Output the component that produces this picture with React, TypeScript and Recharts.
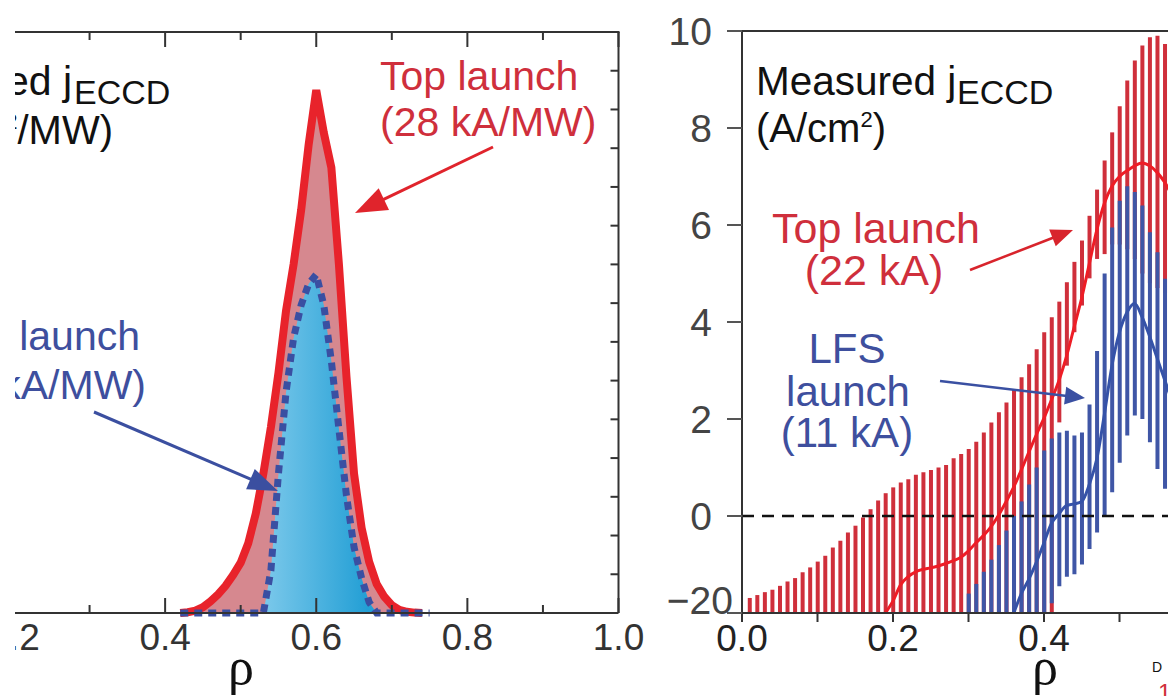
import React from "react";
import {
  ComposedChart,
  Area,
  Bar,
  Line,
  XAxis,
  YAxis,
  ReferenceLine,
} from "recharts";

const FONT = '"Liberation Sans", Arial, Helvetica, sans-serif';

// Left panel: calculated j_ECCD profiles (arbitrary units, 0..15 axis)
const rhoCalc = [
  0.42, 0.43, 0.44, 0.45, 0.46, 0.47, 0.48, 0.49, 0.5, 0.51, 0.52, 0.53,
  0.54, 0.55, 0.56, 0.57, 0.58, 0.59, 0.6, 0.61, 0.62, 0.63, 0.64, 0.65,
  0.66, 0.67, 0.68, 0.69, 0.7, 0.71, 0.72, 0.73, 0.74, 0.75,
];
const topCalc = [
  0, 0.02, 0.06, 0.15, 0.3, 0.48, 0.7, 0.98, 1.3, 1.8, 2.57, 3.6,
  4.8, 6.2, 7.8, 9.0, 10.4, 12.1, 13.5, 12.4, 11.5, 9.0, 6.1, 3.6,
  2.2, 1.32, 0.75, 0.42, 0.2, 0.08, 0.03, 0.01, 0, null,
];
const lfsCalc = [
  0, 0, 0, 0, 0, 0, 0, 0, 0, 0, 0, 0,
  1.1, 3.6, 5.7, 7.1, 7.95, 8.5, 8.74, 7.95, 6.5, 4.75, 3.03, 1.7,
  0.9, 0.28, 0, 0, 0, 0, 0, 0, 0, 0,
];
const leftTicks = [0.2, 0.3, 0.4, 0.5, 0.6, 0.7, 0.8, 0.9, 1.0];
const leftYTicks = [0, 1, 2, 3, 4, 5, 6, 7, 8, 9, 10, 11, 12, 13, 14, 15];

// Right panel: measured j_ECCD (A/cm2) with error bars
const rhoMeas = [
  0.01, 0.02, 0.03, 0.04, 0.05, 0.06, 0.07, 0.08, 0.09, 0.1,
  0.11, 0.12, 0.13, 0.14, 0.15, 0.16, 0.17, 0.18, 0.19, 0.2,
  0.21, 0.22, 0.23, 0.24, 0.25, 0.26, 0.27, 0.28, 0.29, 0.3,
  0.31, 0.32, 0.33, 0.34, 0.35, 0.36, 0.37, 0.38, 0.39, 0.4,
  0.41, 0.42, 0.43, 0.44, 0.45, 0.46, 0.47, 0.48, 0.49, 0.5,
  0.51, 0.52, 0.53, 0.54, 0.55, 0.56, 0.57,
];
const topHigh = [
  -1.69, -1.63, -1.57, -1.52, -1.44, -1.35, -1.28, -1.16, -1.06, -0.94,
  -0.82, -0.65, -0.51, -0.34, -0.2, -0.03, 0.14, 0.32, 0.47, 0.59,
  0.69, 0.76, 0.85, 0.9, 0.95, 1.0, 1.05, 1.19, 1.28, 1.38,
  1.53, 1.72, 1.93, 2.14, 2.34, 2.6, 2.86, 3.13, 3.44, 3.79,
  4.1, 4.42, 4.82, 5.24, 5.68, 6.19, 6.73, 7.33, 7.91, 8.45,
  8.98, 9.39, 9.7, 9.87, 9.9, 9.73, 9.5,
];
const topLow = [
  -2, -2, -2, -2, -2, -2, -2, -2, -2, -2,
  -2, -2, -2, -2, -2, -2, -2, -2, -2, -2,
  -2, -2, -2, -2, -2, -2, -2, -2, -2, -2,
  -2, -2, -2, -2, -2, -2, -2, -2, -2, -2,
  -2, 1.93, 3.1, 3.79, 4.34, 4.9, 5.3, 5.4, 5.6, 5.6,
  5.5, 5.3, 5.0, 4.8, 4.7, 4.6, 4.5,
];
// red mean curve from rho = 0.19
const topMean = [
  -2.0, -1.75, -1.42, -1.25, -1.15, -1.1, -1.07, -1.03, -0.98, -0.92,
  -0.85, -0.72, -0.55, -0.4, -0.22, 0.02, 0.3, 0.6, 0.95, 1.32,
  1.68, 2.02, 2.4, 2.8, 3.3, 3.9, 4.5, 5.2, 5.9, 6.45,
  6.8, 7.0, 7.12, 7.22, 7.28, 7.22, 7.08, 6.88, 6.6,
];
// LFS error bars from rho = 0.30
const lfsHigh = [
  -1.6, -1.4, -1.15, -0.9, -0.6, -0.3, 0.0, 0.3, 0.65, 1.0,
  1.35, 1.6, 1.72, 1.76, 1.66, 1.72, 2.3, 3.4, 5.0, 5.95,
  6.5, 6.8, 6.68, 6.4, 5.85, 5.44, 4.89, 4.4,
];
const lfsLow = [
  -2, -2, -2, -2, -2, -2, -2, -2, -2, -2,
  -2, -1.8, -1.45, -1.25, -1.2, -1.0, -0.68, -0.34, 0.0, 0.49,
  1.1, 1.66, 2.07, 2.0, 1.52, 0.97, 0.56, 0.2,
];
// LFS mean curve from rho = 0.36
const lfsMean = [
  -2.0, -1.6, -1.3, -0.95, -0.55, -0.15, 0.05, 0.22, 0.25, 0.3,
  0.65, 1.18, 2.1, 3.1, 3.79, 4.2, 4.38, 4.1, 3.7, 3.25,
  2.8, 2.35,
];
const rightXTicks = [0, 0.1, 0.2, 0.3, 0.4, 0.5, 0.6, 0.7, 0.8];
const rightYTicks = [-2, 0, 2, 4, 6, 8, 10];

const calcData = rhoCalc.map((rho, i) => ({ rho, top: topCalc[i], lfs: lfsCalc[i] }));

const measData = rhoMeas.map((rho, i) => {
  const n = rhoMeas.length;
  const b = i - (n - lfsHigh.length);
  const tm = i - (n - topMean.length);
  const lm = i - (n - lfsMean.length);
  return {
    rho,
    topBar: [topLow[i], topHigh[i]],
    lfsBar: b >= 0 ? [lfsLow[b], lfsHigh[b]] : null,
    top: tm >= 0 ? topMean[tm] : null,
    lfs: lm >= 0 ? lfsMean[lm] : null,
  };
});

// left plot box (chart 700x696)
const L_MARGIN = { top: 32, right: 61.5, bottom: 23, left: 14 };
const L_XAXIS_H = 60;
const L_YAXIS_W = 20;
const L_PLOT_W = 700 - L_MARGIN.left - L_MARGIN.right - L_YAXIS_W;
const L_DOMAIN = [0.2, 1];
const leftX = (r: number) => L_MARGIN.left + ((r - L_DOMAIN[0]) / (L_DOMAIN[1] - L_DOMAIN[0])) * L_PLOT_W;

const isMajor = (v: number) => Math.round(v * 10) % 2 === 0;

const LeftBottomTick = (p: any) => {
  const v = p.payload.value;
  const major = isMajor(v);
  return (
    <g>
      <line x1={p.x} x2={p.x} y1={p.y} y2={p.y - (major ? 15 : 8)} stroke="#333" strokeWidth={2} />
      {major && (
        <text x={p.x} y={p.y + 11} dy="0.71em" textAnchor="middle" fontSize={37} fill="#333" fontFamily={FONT}>
          {v.toFixed(1)}
        </text>
      )}
    </g>
  );
};

const LeftRightTick = (p: any) => {
  const v = p.payload.value;
  if (v === 0 || v === 15) return <g />;
  return <line x1={p.x - 8} x2={p.x} y1={p.y} y2={p.y} stroke="#333" strokeWidth={2} />;
};

const RightYTick = (p: any) => {
  const v = p.payload.value;
  if (v === -2) {
    return (
      <text x={p.x + 21} y={p.y - 13} dy="0.36em" textAnchor="end" fontSize={39} fill="#444" fontFamily={FONT}>
        −20
      </text>
    );
  }
  return (
    <text x={p.x} y={p.y} dy="0.36em" textAnchor="end" fontSize={39} fill="#444" fontFamily={FONT}>
      {v}
    </text>
  );
};

function Arrow({ x1, y1, x2, y2, color, w, len, half }: any) {
  const dx = x2 - x1;
  const dy = y2 - y1;
  const d = Math.sqrt(dx * dx + dy * dy);
  const ux = dx / d;
  const uy = dy / d;
  const bx = x2 - ux * len;
  const by = y2 - uy * len;
  const pts = `${x2},${y2} ${bx - uy * half},${by + ux * half} ${bx + uy * half},${by - ux * half}`;
  return (
    <g>
      <line x1={x1} y1={y1} x2={bx + ux * 2} y2={by + uy * 2} stroke={color} strokeWidth={w} />
      <polygon points={pts} fill={color} />
    </g>
  );
}

const RED_TXT = "#cf2f3c";
const BLUE_TXT = "#3e4f9e";

function LeftPanel() {
  const top = L_MARGIN.top;
  return (
    <div style={{ position: "absolute", left: 15, top: 0, width: 650, height: 696, overflow: "hidden" }}>
      <div style={{ position: "absolute", left: -15, top: 0, width: 700, height: 696 }}>
        <ComposedChart width={700} height={696} data={calcData} margin={L_MARGIN}>
          <defs>
            <linearGradient id="lfsFill" x1="0" y1="0" x2="1" y2="0">
              <stop offset="0.35" stopColor="#78c7ea" />
              <stop offset="0.75" stopColor="#239fd5" />
            </linearGradient>
          </defs>
          <XAxis
            dataKey="rho"
            type="number"
            domain={L_DOMAIN}
            ticks={leftTicks}
            interval={0}
            height={L_XAXIS_H}
            tickSize={0}
            tickMargin={0}
            tickLine={false}
            axisLine={{ stroke: "#333", strokeWidth: 2 }}
            tick={(p: any) => <LeftBottomTick {...p} />}
            allowDataOverflow
          />
          <YAxis
            orientation="right"
            type="number"
            domain={[0, 15]}
            ticks={leftYTicks}
            interval={0}
            width={L_YAXIS_W}
            tickSize={0}
            tickMargin={0}
            tickLine={false}
            axisLine={{ stroke: "#333", strokeWidth: 2 }}
            tick={(p: any) => <LeftRightTick {...p} />}
          />
          <Area
            dataKey="top"
            type="linear"
            stroke="#e8232b"
            strokeWidth={8}
            fill="#d6888f"
            fillOpacity={1}
            isAnimationActive={false}
          />
          <Area
            dataKey="lfs"
            type="linear"
            stroke="#3a4fa2"
            strokeWidth={7}
            strokeDasharray="8 6"
            fill="url(#lfsFill)"
            fillOpacity={1}
            isAnimationActive={false}
          />
        </ComposedChart>
        <svg width={700} height={696} style={{ position: "absolute", left: 0, top: 0, pointerEvents: "none" }}>
          {/* top frame of the box with its inward ticks */}
          <line x1={leftX(L_DOMAIN[0])} x2={leftX(L_DOMAIN[1]) + 1} y1={top} y2={top} stroke="#333" strokeWidth={2} />
          {leftTicks.map((t) => (
            <line key={t} x1={leftX(t)} x2={leftX(t)} y1={top} y2={top + (isMajor(t) ? 15 : 8)} stroke="#333" strokeWidth={2} />
          ))}
          <g fontFamily={FONT}>
            <text x={72} y={95} textAnchor="end" fontSize={41} fill="#111">Calculated j</text>
            <text x={74} y={104} fontSize={34} fill="#111">ECCD</text>
            <text x={113} y={144} textAnchor="end" fontSize={40} fill="#111">
              (A/cm<tspan dy={-15} fontSize={22}>2</tspan><tspan dy={15}>/MW)</tspan>
            </text>
            <text x={380} y={90} fontSize={41} fill={RED_TXT}>Top launch</text>
            <text x={380} y={136} fontSize={41} fill={RED_TXT}>(28 kA/MW)</text>
            <text x={140} y={350} textAnchor="end" fontSize={41} fill={BLUE_TXT}>LFS launch</text>
            <text x={146} y={399} textAnchor="end" fontSize={41} fill={BLUE_TXT}>(13 kA/MW)</text>
            <text x={241} y={684} textAnchor="middle" fontSize={52} fill="#111" fontFamily='"Liberation Serif", serif'>ρ</text>
          </g>
          <Arrow x1={493} y1={147} x2={355} y2={213} color="#e0242c" w={3} len={32} half={12} />
          <Arrow x1={94} y1={412} x2={278} y2={491} color="#3b4fa0" w={3} len={30} half={11} />
        </svg>
      </div>
    </div>
  );
}

function RightPanel() {
  return (
    <div style={{ position: "absolute", left: 600, top: 0, width: 800, height: 696 }}>
      <ComposedChart width={800} height={696} data={measData} margin={{ top: 31, right: 54, bottom: 23, left: 62 }}>
        <XAxis
          dataKey="rho"
          type="number"
          domain={[0, 0.8]}
          ticks={rightXTicks}
          interval={0}
          height={60}
          tickSize={9}
          tickMargin={3}
          tickFormatter={(v: number) => (isMajor(v) ? v.toFixed(1) : "")}
          tick={{ fontSize: 37, fill: "#222", fontFamily: FONT }}
          axisLine={{ stroke: "#333", strokeWidth: 2 }}
          tickLine={{ stroke: "#333", strokeWidth: 2 }}
          allowDataOverflow
        />
        <XAxis xAxisId="lfs" dataKey="rho" type="number" domain={[0, 0.8]} hide allowDataOverflow />
        <YAxis
          type="number"
          domain={[-2, 10]}
          ticks={rightYTicks}
          interval={0}
          width={80}
          tickSize={15}
          tickMargin={15}
          tick={(p: any) => <RightYTick {...p} />}
          axisLine={{ stroke: "#333", strokeWidth: 2 }}
          tickLine={{ stroke: "#555", strokeWidth: 2 }}
          allowDataOverflow
        />
        <ReferenceLine y={10} stroke="#333" strokeWidth={2} />
        <Bar dataKey="topBar" barSize={4} fill="#cf2f3b" isAnimationActive={false} />
        <Bar dataKey="lfsBar" xAxisId="lfs" barSize={4} fill="#3f56a6" isAnimationActive={false} />
        <Line dataKey="top" type="monotone" stroke="#ee1d26" strokeWidth={3} dot={false} isAnimationActive={false} />
        <Line dataKey="lfs" type="monotone" stroke="#3552a8" strokeWidth={3} dot={false} isAnimationActive={false} />
        <ReferenceLine y={0} stroke="#111" strokeWidth={2.5} strokeDasharray="12 8" />
      </ComposedChart>
    </div>
  );
}

export default function App() {
  return (
    <div style={{ position: "absolute", left: 0, top: 0, width: 1168, height: 696, overflow: "hidden", background: "#fff" }}>
      <LeftPanel />
      <RightPanel />
      <svg width={1168} height={696} style={{ position: "absolute", left: 0, top: 0, pointerEvents: "none" }}>
        <g fontFamily={FONT}>
          <text x={756} y={95} fontSize={40.5} fill="#111">Measured j</text>
          <text x={957} y={104} fontSize={34} fill="#111">ECCD</text>
          <text x={756} y={142} fontSize={40} fill="#111">
            (A/cm<tspan dy={-15} fontSize={22}>2</tspan><tspan dy={15}>)</tspan>
          </text>
          <text x={876} y={243} textAnchor="middle" fontSize={43} fill={RED_TXT}>Top launch</text>
          <text x={874} y={285} textAnchor="middle" fontSize={43} fill={RED_TXT}>(22 kA)</text>
          <text x={847} y={363} textAnchor="middle" fontSize={42} fill={BLUE_TXT}>LFS</text>
          <text x={848} y={406} textAnchor="middle" fontSize={42} fill={BLUE_TXT}>launch</text>
          <text x={847} y={447} textAnchor="middle" fontSize={42} fill={BLUE_TXT}>(11 kA)</text>
          <text x={1045} y={684} textAnchor="middle" fontSize={52} fill="#111" fontFamily='"Liberation Serif", serif'>ρ</text>
          <text x={1152} y={672} fontSize={14} fill="#111">D</text>
          <text x={1158} y={701} fontSize={24} fill="#d0303a">1</text>
        </g>
        <Arrow x1={970} y1={270} x2={1073} y2={230} color="#d8242c" w={2.5} len={22} half={9} />
        <Arrow x1={940} y1={381} x2={1085} y2={398} color="#3a50a2" w={2.5} len={20} half={9} />
      </svg>
    </div>
  );
}
